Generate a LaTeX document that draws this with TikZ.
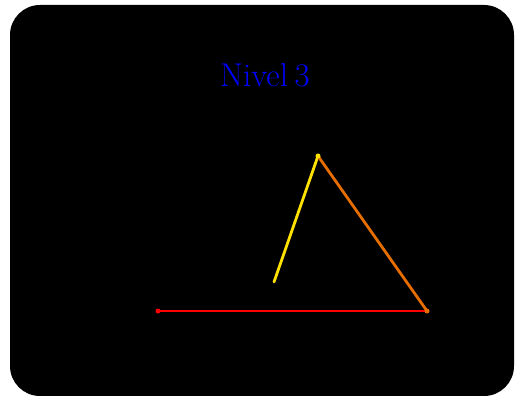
\documentclass[tikz,border=0pt]{standalone}
\definecolor{titleblue}{RGB}{0,0,255}
\definecolor{segyellow}{RGB}{255,225,0}
\definecolor{segorange}{RGB}{230,110,0}
\definecolor{segred}{RGB}{255,0,0}
\begin{document}
\begin{tikzpicture}[x=1pt,y=-1pt,
  seg/.style={line width=2.8pt,line cap=round},
  enddot/.style={circle,inner sep=0pt,minimum size=5pt}]
\useasboundingbox[fill=white] (0,0) rectangle (515,396);
\fill[black,rounded corners=30pt] (10,5) rectangle (514,396);
\node[text=titleblue,font=\fontsize{33}{38}\selectfont] (title) at (265,75) {Nivel\kern0.2em 3};
\coordinate (p1) at (274,282);
\coordinate (p2) at (318,156);
\coordinate (p3) at (427,311);
\coordinate (p4) at (158,311);
\draw[seg,segyellow] (p1) -- (p2);
\draw[seg,segorange] (p2) -- (p3);
\draw[seg,segred] (p3) -- (p4);
\node[enddot,fill=segyellow] (d2) at (p2) {};
\node[enddot,fill=segorange] (d3) at (p3) {};
\node[enddot,fill=segred] (d4) at (p4) {};
\end{tikzpicture}
\end{document}
